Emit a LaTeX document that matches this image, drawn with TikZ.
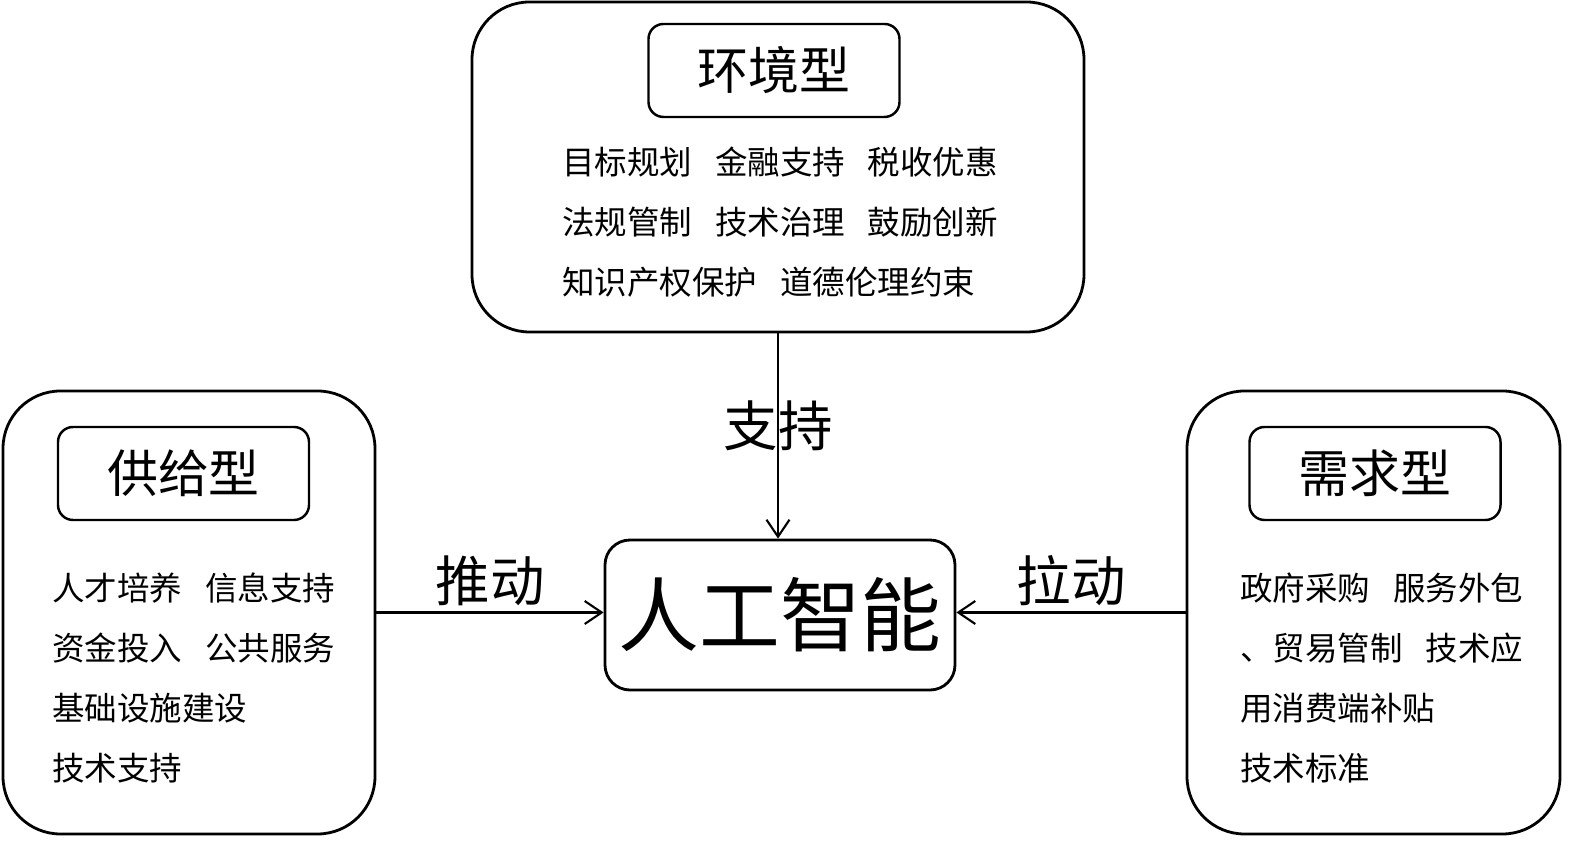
\documentclass[tikz,border=0pt]{standalone}
\usepackage{fontspec}
\setmainfont{Noto Sans CJK SC}
\usepackage{tikz}
\usetikzlibrary{arrows.meta,positioning}
\newcommand{\itemgap}{\hspace{0.7em}}

\begin{document}
\begin{tikzpicture}[
    outerbox/.style={draw, line width=1.6pt, rounded corners=1.15cm},
    titlebox/.style={draw, line width=1.4pt, rounded corners=0.3cm,
        minimum width=5.02cm, minimum height=1.86cm,
        font=\fontsize{29pt}{34pt}\selectfont},
    items/.style={align=left, anchor=west, inner sep=0pt,
        font=\fontsize{18.5pt}{34.1pt}\selectfont},
    link/.style={line width=1.2pt, -{Straight Barb[length=3.4mm,width=4.6mm]}},
    linklabel/.style={font=\fontsize{31pt}{36pt}\selectfont}
]
    \useasboundingbox (0,0) rectangle (31.58,16.98);

    % Environment policies
    \node[outerbox, minimum width=12.24cm, minimum height=6.6cm] (env) at (15.56,13.64) {};
    \node[titlebox] (envtitle) at (15.48,15.57) {环境型};
    \node[items] (envitems) at (11.24,12.54) {目标规划\itemgap 金融支持\itemgap 税收优惠\\法规管制\itemgap 技术治理\itemgap 鼓励创新\\知识产权保护\itemgap 道德伦理约束};

    % Supply policies
    \node[outerbox, minimum width=7.44cm, minimum height=8.86cm] (supply) at (3.78,4.73) {};
    \node[titlebox] (supplytitle) at (3.67,7.51) {供给型};
    \node[items] (supplyitems) at (1.04,3.42) {人才培养\itemgap 信息支持\\资金投入\itemgap 公共服务\\基础设施建设\\技术支持};

    % Demand policies
    \node[outerbox, minimum width=7.46cm, minimum height=8.86cm] (demand) at (27.47,4.73) {};
    \node[titlebox] (demandtitle) at (27.5,7.51) {需求型};
    \node[items] (demanditems) at (24.8,3.42) {政府采购\itemgap 服务外包\\、贸易管制\itemgap 技术应\\用消费端补贴\\技术标准};

    % Center
    \node[draw, line width=1.6pt, rounded corners=0.5cm, minimum width=7cm, minimum height=3cm,
        font=\fontsize{46pt}{50pt}\selectfont] (ai) at (15.6,4.68) {人工智能};

    % Links
    \draw[link] (env.south) -- (env.south |- ai.north)
        node[linklabel, pos=0.45] (support) {支持};
    \draw[link] (supply.east) -- (supply.east -| ai.west)
        node[linklabel, midway, above] (push) {推动};
    \draw[link] (demand.west) -- (demand.west -| ai.east)
        node[linklabel, midway, above] (pull) {拉动};
\end{tikzpicture}
\end{document}
